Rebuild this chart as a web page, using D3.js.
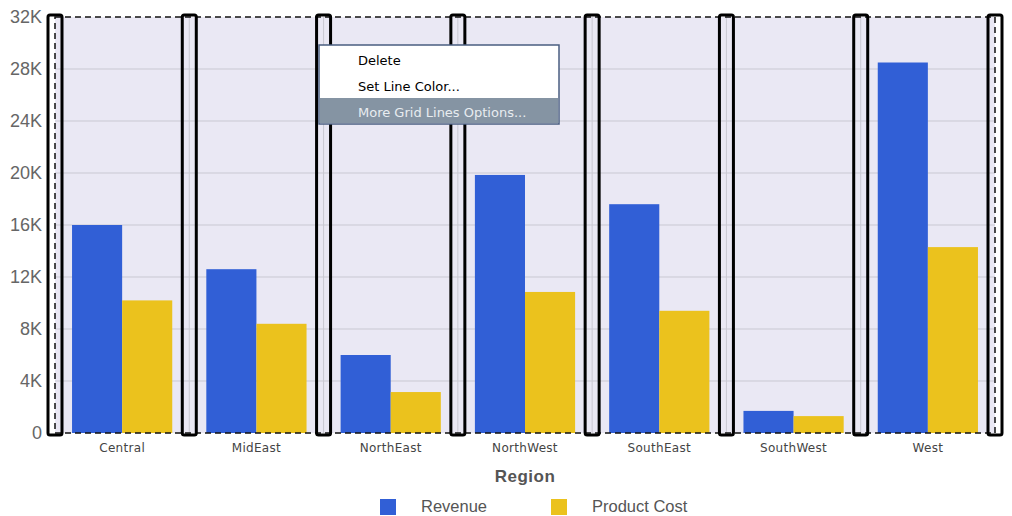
<!DOCTYPE html>
<html><head><meta charset="utf-8">
<script src="https://cdn.jsdelivr.net/npm/d3@7/dist/d3.min.js"></script>
<style>body{margin:0;background:#fff}svg{display:block}</style>
</head><body><svg id="c" width="1012" height="516"></svg>
<script>
const categories = ["Central","MidEast","NorthEast","NorthWest","SouthEast","SouthWest","West"];
const revenue = [16000,12600,6000,19850,17600,1700,28500];
const productCost = [10200,8400,3150,10850,9400,1300,14300];
const seriesNames = ["Revenue","Product Cost"];
const yTicks = [0,4000,8000,12000,16000,20000,24000,28000,32000];
const menuItems = ["Delete","Set Line Color...","More Grid Lines Options..."];

const svg = d3.select("#c");
const L = 55, R = 995, T = 17, B = 433;
const colors = ["#315fd6","#ebc21d"];

const x = d3.scaleBand().domain(categories).range([L,R]).paddingInner(0).paddingOuter(0);
const xs = d3.scaleBand().domain(seriesNames).range([0,x.bandwidth()]).paddingInner(0).paddingOuter(0.34);
const y = d3.scaleLinear().domain([0,32000]).range([B,T]);

svg.append("rect").attr("x",L).attr("y",T).attr("width",R-L).attr("height",B-T).attr("fill","#eae8f4");

// horizontal gridlines
svg.append("g").selectAll("line").data(yTicks.slice(1,-1)).join("line")
  .attr("x1",L).attr("x2",R).attr("y1",d=>y(d)).attr("y2",d=>y(d))
  .attr("stroke","#c9c8d2").attr("stroke-width",1);

// vertical gridlines at category boundaries
const bounds = categories.map(c=>x(c)).concat([R]);
svg.append("g").selectAll("line").data(bounds.slice(1,-1)).join("line")
  .attr("x1",d=>d).attr("x2",d=>d).attr("y1",T).attr("y2",B)
  .attr("stroke","#c9c8d2").attr("stroke-width",1);

// bars
const data = categories.map((c,i)=>({c, vals:[revenue[i],productCost[i]]}));
const g = svg.append("g");
g.selectAll("g").data(data).join("g").attr("transform",d=>`translate(${x(d.c)},0)`)
  .selectAll("rect").data(d=>d.vals.map((v,j)=>({v,j}))).join("rect")
  .attr("x",d=>xs(seriesNames[d.j])).attr("width",xs.bandwidth())
  .attr("y",d=>y(d.v)).attr("height",d=>B-y(d.v))
  .attr("fill",d=>colors[d.j]);

// dashed border
svg.append("rect").attr("x",L).attr("y",T).attr("width",R-L).attr("height",B-T)
  .attr("fill","none").attr("stroke","#111").attr("stroke-width",1.5).attr("stroke-dasharray","6,4");

// selection highlight rectangles
svg.append("g").selectAll("rect").data(bounds).join("rect")
  .attr("x",d=>d-7).attr("y",T-2).attr("width",14).attr("height",B-T+4).attr("rx",2)
  .attr("fill","none").attr("stroke","#000").attr("stroke-width",3);

// y axis labels
svg.append("g").selectAll("text").data(yTicks).join("text")
  .attr("x",42).attr("y",d=>y(d)+6).attr("text-anchor","end")
  .attr("font-family","Liberation Sans, Arial, sans-serif").attr("font-size",18).attr("fill","#666")
  .text(d=>d===0?"0":(d/1000)+"K");

// x labels
svg.append("g").selectAll("text").data(categories).join("text")
  .attr("x",d=>x(d)+x.bandwidth()/2).attr("y",452).attr("text-anchor","middle")
  .attr("font-family","DejaVu Sans, sans-serif").attr("font-size",12)
  .attr("fill","#444").attr("letter-spacing","0.3").text(d=>d);

svg.append("text").attr("x",(L+R)/2).attr("y",482).attr("text-anchor","middle")
  .attr("font-family","Liberation Sans, Arial, sans-serif").attr("font-size",17).attr("font-weight","bold")
  .attr("fill","#555").attr("letter-spacing","0.5").text("Region");

// legend
const lg = svg.append("g");
const lx = [380,551];
seriesNames.forEach((s,i)=>{
  lg.append("rect").attr("x",lx[i]).attr("y",499).attr("width",16).attr("height",16).attr("fill",colors[i]);
  lg.append("text").attr("x",lx[i]+41).attr("y",512)
    .attr("font-family","Liberation Sans, Arial, sans-serif").attr("font-size",16.5).attr("fill","#555").text(s);
});

// context menu
const m = svg.append("g");
m.append("rect").attr("x",319).attr("y",45).attr("width",240).attr("height",79).attr("fill","#fff")
  .attr("stroke","#4a5d80").attr("stroke-width",1.5);
m.append("rect").attr("x",320).attr("y",98).attr("width",238).attr("height",25).attr("fill","#8594a3");
m.selectAll("text").data(menuItems).join("text")
  .attr("x",358).attr("y",(d,i)=>65+i*26)
  .attr("font-family","DejaVu Sans, sans-serif").attr("font-size",13)
  .attr("fill",(d,i)=>i===2?"#e8ecf0":"#000").text(d=>d);
</script></body></html>
